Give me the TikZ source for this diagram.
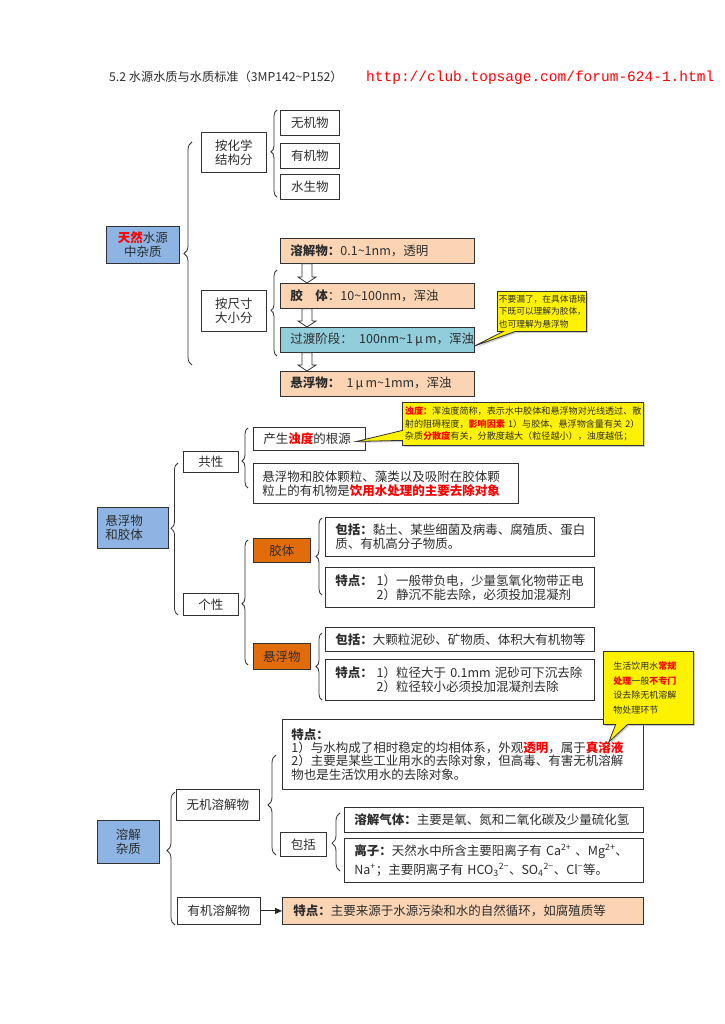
\documentclass[tikz,border=0pt]{standalone}
\usepackage{fontspec}
\setmainfont{Noto Sans CJK SC}
\newfontfamily\urlfont{Liberation Mono}
\usetikzlibrary{decorations.pathreplacing,shapes.callouts,calc,arrows.meta,shadows}
\definecolor{srcblue}{RGB}{141,180,226}
\definecolor{peach}{RGB}{251,212,180}
\definecolor{tealbox}{RGB}{146,205,220}
\definecolor{orangebox}{RGB}{227,108,10}
\definecolor{txt}{RGB}{45,45,45}
\definecolor{linec}{RGB}{50,50,50}
\newcommand\hollowarr[2]{%
  \draw[harr] let \p1=($(#1.south west)+(27,0)$), \p2=($(#2.north west)+(27,0)$) in
    (\x1-5pt,\y1) -- (\x1-5pt,\y2+6pt) -- (\x1-9pt,\y2+6pt) -- (\x1,\y2) --
    (\x1+9pt,\y2+6pt) -- (\x1+5pt,\y2+6pt) -- (\x1+5pt,\y1) -- cycle;}
\tikzset{
  bx/.style={draw=linec, line width=0.8pt, anchor=north west, inner sep=0pt, text=txt},
  fb/.style={font=\fontsize{12.5}{14}\selectfont},
  brc/.style={decorate, draw=linec, line width=0.8pt},
  callbox/.style={rectangle callout, fill=yellow, draw=linec, line width=0.8pt,
    anchor=north west, inner sep=0pt, text=txt,
    drop shadow={shadow xshift=1.5pt, shadow yshift=-1.5pt, fill=black!40}},
  harr/.style={draw=linec, line width=0.8pt, fill=white},
}
\begin{document}
\begin{tikzpicture}[x=1pt,y=-1pt]
\useasboundingbox (0,0) rectangle (724,1024);
\fill[white] (0,0) rectangle (724,1024);

% header
\node[anchor=west, inner sep=0pt, font=\fontsize{12.2}{14}\selectfont, text=txt] (hdr) at (109,77)
  {5.2 水源水质与水质标准（3MP142\textasciitilde P152）};
\node[anchor=west, inner sep=0pt, font=\urlfont\fontsize{14.5}{17}\selectfont, text=red] (url) at (366,78)
  {http://club.topsage.com/forum-624-1.html};

% ===== section 1 =====
\node[bx, fb, fill=srcblue, minimum width=73, minimum height=37, align=center] (src1) at (106,226)
  {{\color{red}\bfseries 天然}水源\\中杂质};
\node[bx, fb, minimum width=65, minimum height=40, align=center] (chem) at (201,132) {按化学\\结构分};
\node[bx, fb, minimum width=59, minimum height=25, align=center] (wj) at (280,110) {无机物};
\node[bx, fb, minimum width=59, minimum height=25, align=center] (yj) at (280,143) {有机物};
\node[bx, fb, minimum width=59, minimum height=25, align=center] (sw) at (280,174) {水生物};
\node[bx, fb, minimum width=65, minimum height=41, align=center] (size) at (201,290) {按尺寸\\大小分};

\node[bx, fb, fill=peach, minimum width=194, minimum height=25, text width=174, inner xsep=10, align=left] (rj) at (280,238)
  {\mbox{{\bfseries 溶解物：}0.1\textasciitilde 1nm，透明}};
\node[bx, fb, fill=peach, minimum width=194, minimum height=25, text width=174, inner xsep=10, align=left] (jt) at (280,283)
  {\mbox{{\bfseries 胶\hspace{1em}体}：10\textasciitilde 100nm，浑浊}};
\node[bx, fb, fill=tealbox, minimum width=194, minimum height=25, text width=174, inner xsep=10, align=left] (gd) at (280,327)
  {\mbox{过渡阶段：\hspace{0.5em}100nm\textasciitilde 1\,μ\,m，浑浊}};
\node[bx, fb, fill=peach, minimum width=194, minimum height=25, text width=174, inner xsep=10, align=left] (xf) at (280,371)
  {\mbox{{\bfseries 悬浮物：}\hspace{0.5em}1\,μ\,m\textasciitilde 1mm，浑浊}};

\hollowarr{rj}{jt}
\hollowarr{jt}{gd}
\hollowarr{gd}{xf}

\coordinate (p1) at ($(gd.east)+(0,6)$);
\node[callbox, minimum width=89, minimum height=40, text width=86, inner xsep=1.5, align=left,
  font=\fontsize{8.7}{12.5}\selectfont, callout absolute pointer=(p1), callout pointer width=12pt] (cal1) at (497,291)
  {不要漏了，在具体语境\\下既可以理解为胶体，\\也可理解为悬浮物};

\draw[brc, decoration={brace, amplitude=8pt, aspect=0.5}] (192,365) -- (192,142);
\draw[brc, decoration={brace, amplitude=6pt, aspect=0.52}] (277,197) -- (277,110);
\draw[brc, decoration={brace, amplitude=6pt, aspect=0.53}] (277,356) -- (277,270);

% ===== section 2 =====
\node[bx, fb, fill=srcblue, minimum width=71, minimum height=41, text width=55, inner xsep=8, align=left] (src2) at (97,507)
  {悬浮物\\和胶体};
\node[bx, fb, minimum width=55, minimum height=21, align=center] (gx) at (183,451) {共性};
\node[bx, fb, minimum width=112, minimum height=23, text width=92, inner xsep=10, align=left] (cs) at (253,427)
  {产生{\color{red}\bfseries 浊度}的根源};
\node[bx, fb, minimum width=265, minimum height=40, text width=247, inner xsep=9, align=left] (zy) at (253,463)
  {悬浮物和胶体颗粒、藻类以及吸附在胶体颗\\粒上的有机物是{\color{red}\bfseries 饮用水处理的主要去除对象}};

\coordinate (p2) at ($(cs.east)+(-9,2.5)$);
\node[callbox, minimum width=241, minimum height=43, text width=236, inner xsep=2.5, align=left,
  font=\fontsize{9.1}{12.5}\selectfont, callout absolute pointer=(p2), callout pointer width=10pt] (cal2) at (402,402)
  {\mbox{{\color{red}\bfseries 浊度：}浑浊度简称，表示水中胶体和悬浮物对光线透过、散}\\
   \mbox{射的阻碍程度，{\color{red}\bfseries 影响因素} 1）与胶体、悬浮物含量有关 2）}\\
   \mbox{杂质{\color{red}\bfseries 分散度}有关，分散度越大（粒径越小），浊度越低；}};

\node[bx, fb, minimum width=55, minimum height=22, align=center] (gxx) at (183,593) {个性};
\node[bx, fb, fill=orangebox, minimum width=57, minimum height=24, align=center] (jt2) at (253,538) {胶体};
\node[bx, fb, minimum width=269, minimum height=39, text width=249, inner xsep=10, align=left] (bk1) at (325,517)
  {{\bfseries 包括：}黏土、某些细菌及病毒、腐殖质、蛋白\\质、有机高分子物质。};
\node[bx, fb, minimum width=269, minimum height=40, text width=249, inner xsep=10, align=left] (td1) at (325,567)
  {\mbox{{\bfseries 特点：}\hspace{0.3em}1）一般带负电，少量氢氧化物带正电}\\
   \mbox{\hspace{3.3em}2）静沉不能去除，必须投加混凝剂}};
\node[bx, fb, fill=orangebox, minimum width=57, minimum height=26, align=center] (xf2) at (253,643) {悬浮物};
\node[bx, fb, minimum width=269, minimum height=24, text width=249, inner xsep=10, align=left] (bk2) at (325,627)
  {{\bfseries 包括：}大颗粒泥砂、矿物质、体积大有机物等};
\node[bx, fb, minimum width=269, minimum height=41, text width=249, inner xsep=10, align=left] (td2) at (325,659)
  {\mbox{{\bfseries 特点：}\hspace{0.3em}1）粒径大于 0.1mm 泥砂可下沉去除}\\
   \mbox{\hspace{3.3em}2）粒径较小必须投加混凝剂去除}};

\draw[brc, decoration={brace, amplitude=7pt, aspect=0.57}] (178,615) -- (178,463);
\draw[brc, decoration={brace, amplitude=6pt, aspect=0.45}] (248,488) -- (248,428);
\draw[brc, decoration={brace, amplitude=6pt, aspect=0.49}] (248,665) -- (248,540);
\draw[brc, decoration={brace, amplitude=6pt, aspect=0.5}] (322,595) -- (322,518);
\draw[brc, decoration={brace, amplitude=6pt, aspect=0.5}] (322,700) -- (322,633);

% ===== section 3 =====
\node[bx, fb, fill=srcblue, minimum width=62, minimum height=43, align=center] (src3) at (97,820) {溶解\\杂质};
\node[bx, fb, minimum width=83, minimum height=31, align=center] (wj3) at (176,789) {无机溶解物};
\node[bx, font=\fontsize{12.5}{13.4}\selectfont, minimum width=361, minimum height=70, text width=343, inner xsep=9, align=left] (td3) at (282,719)
  {{\bfseries 特点：}\\
   1）与水构成了相时稳定的均相体系，外观{\color{red}\bfseries 透明}，属于{\color{red}\bfseries 真溶液}\\
   2）主要是某些工业用水的去除对象，但高毒、有害无机溶解\\
   物也是生活饮用水的去除对象。};
\node[bx, fb, minimum width=46, minimum height=24, align=center] (bk3) at (280,832) {包括};
\node[bx, fb, minimum width=299, minimum height=25, text width=279, inner xsep=10, align=left] (qt) at (344,807)
  {{\bfseries 溶解气体：}主要是氧、氮和二氧化碳及少量硫化氢};
\node[bx, font=\fontsize{12.5}{19}\selectfont, minimum width=299, minimum height=44, text width=279, inner xsep=10, align=left] (lz) at (344,838)
  {\mbox{{\bfseries 离子：}天然水中所含主要阳离子有 Ca\textsuperscript{2+}\ 、Mg\textsuperscript{2+}、}\\
   \mbox{Na\textsuperscript{+}；主要阴离子有 HCO\textsubscript{3}\textsuperscript{2−}、SO\textsubscript{4}\textsuperscript{2−}、Cl\textsuperscript{−}等。}};
\node[bx, fb, minimum width=83, minimum height=27, align=center] (yj3) at (177,897) {有机溶解物};
\node[bx, fb, fill=peach, minimum width=361, minimum height=27, text width=339, inner xsep=11, align=left] (td4) at (282,897)
  {{\bfseries 特点：}主要来源于水源污染和水的自然循环，如腐殖质等};

\draw[line width=1pt, draw=black!85, -{Triangle[length=7pt,width=6pt]}] (yj3.east) -- (td4.west);

\coordinate (p3) at ($(td3.north east)+(-35,23)$);
\node[callbox, minimum width=83, minimum height=73, text width=70, inner xsep=10, align=left,
  font=\fontsize{9}{14.7}\selectfont, callout absolute pointer=(p3), callout pointer width=12pt] (cal3) at (603,651)
  {生活饮用水{\color{red}\bfseries 常规}\\{\color{red}\bfseries 处理}一般{\color{red}\bfseries 不专门}\\设去除无机溶解\\物处理环节};

\draw[brc, decoration={brace, amplitude=8pt, aspect=0.56}] (175,925) -- (175,792);
\draw[brc, decoration={brace, amplitude=8pt, aspect=0.5}] (276,855) -- (276,755);
\draw[brc, decoration={brace, amplitude=8pt, aspect=0.48}] (340,871) -- (340,813);
\end{tikzpicture}
\end{document}
